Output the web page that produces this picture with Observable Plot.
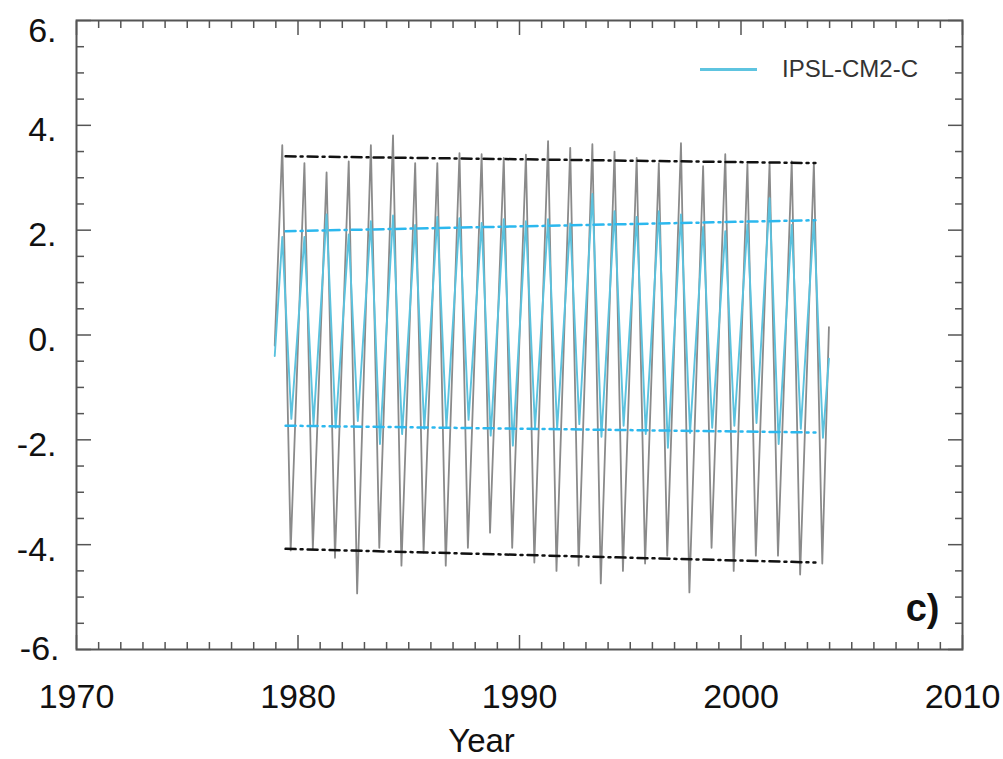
<!DOCTYPE html>
<html>
<head>
<meta charset="utf-8">
<script src="https://cdn.jsdelivr.net/npm/d3@7"></script>
<script src="https://cdn.jsdelivr.net/npm/@observablehq/plot@0.6"></script>
<style>
  html, body { margin: 0; padding: 0; background: #fff; }
  #wrap { position: relative; width: 1003px; height: 759px; font-family: "Liberation Sans", Arial, sans-serif; }
  #legend { position: absolute; left: 700px; top: 54px; height: 30px; display: flex; align-items: center; }
  #legend .swatch { width: 57px; height: 3px; background: #5ec4e0; margin-right: 25px; }
  #legend .lab { font-size: 24px; color: #333; }
</style>
</head>
<body>
<div id="wrap">
  <div id="chart"></div>
  <div id="legend"><div class="swatch"></div><div class="lab">IPSL-CM2-C</div></div>
</div>
<script>
// ---- data ----
const years = [1979,1980,1981,1982,1983,1984,1985,1986,1987,1988,1989,1990,1991,1992,1993,1994,1995,1996,1997,1998,1999,2000,2001,2002,2003];
// grey (reference) seasonal extremes
const obsPeaks   = [3.62,3.28,3.10,3.31,3.62,3.81,3.28,3.28,3.47,3.45,3.38,3.44,3.70,3.57,3.64,3.50,3.38,3.28,3.66,3.22,3.45,3.26,3.28,3.31,3.28];
const obsTroughs = [-4.11,-4.08,-4.25,-4.93,-4.06,-4.40,-4.15,-4.40,-4.06,-3.77,-4.06,-4.34,-4.50,-4.40,-4.74,-4.50,-4.36,-4.21,-4.91,-4.06,-4.50,-4.21,-4.21,-4.57,-4.36];
const obsStart = [1978.95, -0.2];
const obsEnd   = [2003.97, 0.15];
// IPSL-CM2-C seasonal extremes
const modelPeaks   = [1.87,1.87,2.30,1.92,2.17,2.28,2.10,2.25,2.23,2.14,2.21,2.17,2.21,2.13,2.69,2.36,2.25,2.36,2.30,2.06,1.98,2.11,2.61,2.10,2.19];
const modelTroughs = [-1.60,-1.70,-1.77,-1.64,-2.08,-1.89,-1.79,-1.77,-1.62,-1.92,-2.11,-1.77,-1.79,-1.70,-1.94,-1.73,-1.89,-2.15,-1.87,-1.77,-1.73,-1.68,-2.08,-1.79,-1.96];
const modelStart = [1978.95, -0.4];
const modelEnd   = [2003.97, -0.45];
// timing within the year of the maxima / minima
const obsPeakPhase = 0.29, obsTroughPhase = 0.67;
const modelPeakPhase = 0.29, modelTroughPhase = 0.70;
// trend lines (start, end)
const trendYears      = [1979.44, 2003.36];
const obsUpperTrend   = [3.41, 3.28];
const obsLowerTrend   = [-4.08, -4.34];
const modelUpperTrend = [1.98, 2.19];
const modelLowerTrend = [-1.73, -1.86];
// axis ticks
const xMajor = [1970, 1980, 1990, 2000, 2010];
const xMinor = d3.range(1971, 2010).filter(d => d % 10 !== 0);
const yMajor = [-6, -4, -2, 0, 2, 4, 6];
const yMinor = d3.range(-5.5, 6, 0.5).filter(d => d % 2 !== 0);
const yLabelsMid = [-4, -2, 0, 2, 4];

function cycle(start, peaks, troughs, pPhase, tPhase, end) {
  const pts = [{t: start[0], v: start[1]}];
  years.forEach((y, i) => {
    pts.push({t: y + pPhase, v: peaks[i]});
    pts.push({t: y + tPhase, v: troughs[i]});
  });
  pts.push({t: end[0], v: end[1]});
  return pts;
}
const obsSeries = cycle(obsStart, obsPeaks, obsTroughs, obsPeakPhase, obsTroughPhase, obsEnd);
const modelSeries = cycle(modelStart, modelPeaks, modelTroughs, modelPeakPhase, modelTroughPhase, modelEnd);
const trend = vals => trendYears.map((t, i) => ({t, v: vals[i]}));

const tickColor = "#555";
const fmtY = d => `${d}.`;
const fmtX = d => String(d);
const FS = 34;

const chart = Plot.plot({
  width: 1003,
  height: 759,
  marginLeft: 76,
  marginRight: 41,
  marginTop: 20,
  marginBottom: 110,
  style: {fontFamily: "'Liberation Sans', Arial, sans-serif", background: "#fff", color: "#111"},
  x: {domain: [1970, 2010]},
  y: {domain: [-6, 6]},
  marks: [
    // data
    Plot.line(obsSeries, {x: "t", y: "v", stroke: "#8a8a8a", strokeWidth: 1.8}),
    Plot.line(modelSeries, {x: "t", y: "v", stroke: "#5bc2de", strokeWidth: 1.9}),
    Plot.line(trend(obsUpperTrend), {x: "t", y: "v", stroke: "#111", strokeWidth: 2.5, strokeDasharray: "10,5,2,5"}),
    Plot.line(trend(obsLowerTrend), {x: "t", y: "v", stroke: "#111", strokeWidth: 2.5, strokeDasharray: "10,5,2,5"}),
    Plot.line(trend(modelUpperTrend), {x: "t", y: "v", stroke: "#2cb8ee", strokeWidth: 2.5, strokeDasharray: "10,5,2,5"}),
    Plot.line(trend(modelLowerTrend), {x: "t", y: "v", stroke: "#2cb8ee", strokeWidth: 2.5, strokeDasharray: "10,5,2,5"}),
    // inward ticks on all four sides
    Plot.axisX(xMajor, {anchor: "bottom", tickSize: -14, fill: "none", stroke: tickColor, strokeWidth: 1.5, label: null}),
    Plot.axisX(xMinor, {anchor: "bottom", tickSize: -7, fill: "none", stroke: tickColor, strokeWidth: 1.5, label: null}),
    Plot.axisX(xMajor, {anchor: "top", tickSize: -14, fill: "none", stroke: tickColor, strokeWidth: 1.5, label: null}),
    Plot.axisX(xMinor, {anchor: "top", tickSize: -7, fill: "none", stroke: tickColor, strokeWidth: 1.5, label: null}),
    Plot.axisY(yMajor, {anchor: "left", tickSize: -15, fill: "none", stroke: tickColor, strokeWidth: 1.5, label: null}),
    Plot.axisY(yMinor, {anchor: "left", tickSize: -8, fill: "none", stroke: tickColor, strokeWidth: 1.5, label: null}),
    Plot.axisY(yMajor, {anchor: "right", tickSize: -15, fill: "none", stroke: tickColor, strokeWidth: 1.5, label: null}),
    Plot.axisY(yMinor, {anchor: "right", tickSize: -8, fill: "none", stroke: tickColor, strokeWidth: 1.5, label: null}),
    // tick labels
    Plot.axisX(xMajor, {anchor: "bottom", tickSize: 0, tickPadding: 34, fontSize: FS, tickFormat: fmtX, fill: "#111", label: null}),
    Plot.axisY(yLabelsMid, {anchor: "left", tickSize: 0, tickPadding: 20, fontSize: FS, tickFormat: fmtY, dy: 5, fill: "#111", label: null}),
    Plot.axisY([6], {anchor: "left", tickSize: 0, tickPadding: 20, fontSize: FS, tickFormat: fmtY, dy: 11, fill: "#111", label: null}),
    Plot.axisY([-6], {anchor: "left", tickSize: 0, tickPadding: 17, fontSize: FS, tickFormat: fmtY, dy: 0, fill: "#111", label: null}),
    // axis title and panel tag
    Plot.text(["Year"], {frameAnchor: "bottom", lineAnchor: "top", dy: 79, dx: -38, fontSize: 33, fill: "#111"}),
    Plot.text(["c)"], {frameAnchor: "bottom-right", textAnchor: "end", lineAnchor: "bottom", dx: -23, dy: -29, fontSize: 38, fontWeight: "bold", fill: "#111"}),
    Plot.frame({stroke: "#555", strokeWidth: 2})
  ]
});
document.getElementById("chart").appendChild(chart);
</script>
</body>
</html>
